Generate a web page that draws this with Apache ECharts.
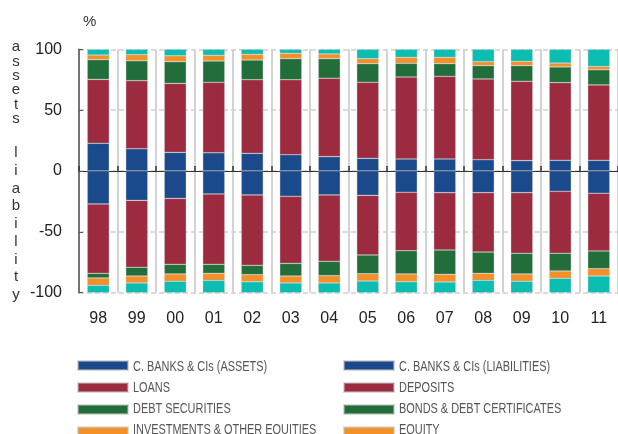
<!DOCTYPE html>
<html>
<head>
<meta charset="utf-8">
<script src="https://cdn.jsdelivr.net/npm/echarts@6/dist/echarts.min.js"></script>
<style>
html,body{margin:0;padding:0;background:#fff;}
#chart{width:618px;height:434px;}
</style>
</head>
<body>
<div id="chart"></div>
<script>
var categories = ['98','99','00','01','02','03','04','05','06','07','08','09','10','11'];
var yTicks = [-100, -50, 0, 50, 100];
var assetNames = ['C. BANKS & CIs (ASSETS)', 'LOANS', 'DEBT SECURITIES', 'INVESTMENTS & OTHER EQUITIES'];
var liabNames = ['C. BANKS & CIs (LIABILITIES)', 'DEPOSITS', 'BONDS & DEBT CERTIFICATES', 'EQUITY'];

// Assets (positive side)
var banksAssets   = [22.8, 18.3, 15.3, 15.0, 14.5, 13.4, 11.8, 10.4,  9.9,  9.9,  9.3,  8.5,  8.8,  8.8];
var loans         = [52.5, 55.9, 56.7, 57.9, 60.5, 61.6, 64.4, 62.5, 67.3, 67.9, 66.3, 65.2, 63.8, 61.9];
var debtSecurities= [16.2, 16.4, 17.8, 17.5, 16.2, 17.3, 16.1, 15.3, 11.3, 10.4, 11.0, 12.9, 12.9, 12.5];
var investments   = [ 3.8,  5.0,  4.9,  4.7,  4.7,  4.4,  3.9,  4.1,  4.9,  5.2,  3.2,  3.5,  3.2,  2.7];
var otherAssets   = [ 4.7,  4.4,  5.3,  4.9,  4.1,  3.3,  3.8,  7.7,  6.6,  6.6, 10.2,  9.9, 11.3, 14.1];

// Liabilities (negative side)
var banksLiab     = [-27.1, -24.1, -22.5, -18.9, -19.7, -20.8, -19.7, -20.0, -17.5, -17.8, -17.8, -17.8, -16.7, -18.3];
var deposits      = [-57.0, -55.0, -54.2, -57.8, -57.8, -55.1, -54.5, -49.0, -48.0, -47.1, -48.8, -49.8, -50.9, -47.4];
var bonds         = [ -3.8,  -7.2,  -7.9,  -7.4,  -7.7, -10.4, -11.8, -15.4, -19.1, -20.0, -17.5, -17.0, -14.6, -14.6];
var equity        = [ -6.0,  -5.7,  -6.0,  -5.7,  -5.8,  -5.7,  -6.0,  -6.0,  -6.4,  -6.3,  -5.7,  -6.0,  -6.0,  -6.0];
var otherLiab     = [ -6.1,  -8.0,  -9.4, -10.2,  -9.0,  -8.0,  -8.0,  -9.6,  -9.0,  -8.8, -10.2,  -9.4, -11.8, -13.7];

var C_BLUE = '#1B4A8C', C_RED = '#9D2B40', C_GREEN = '#226E3A', C_ORANGE = '#F39128', C_TEAL = '#0CBDB2';
var FONT = '"Liberation Sans", Arial, sans-serif';

function bar(name, data, color) {
  return {
    name: name, type: 'bar', stack: 'total', data: data, barWidth: 22,
    itemStyle: { color: color, borderColor: 'rgba(190,190,190,0.55)', borderWidth: 0.6 },
    emphasis: { disabled: true }
  };
}

var legendTop = 360.7, legendRow = 20.9;
function legendLabels(names, x) {
  return names.map(function (n, i) {
    return { type: 'text', x: x, y: legendTop + 6.3 + i * legendRow, scaleX: 0.78,
      style: { text: n, fontSize: 14, fontFamily: FONT, fill: '#555', verticalAlign: 'middle', align: 'left' } };
  });
}
function legendBox(names, left) {
  return { orient: 'vertical', left: left, top: legendTop - 0.8, height: 100, padding: 0,
    itemWidth: 50, itemHeight: 9, itemGap: legendRow - 9.8, icon: 'rect', selectedMode: false,
    formatter: function () { return ''; }, textStyle: { fontSize: 8, lineHeight: 8, padding: 0 }, data: names };
}

var chart = echarts.init(document.getElementById('chart'), null, { renderer: 'canvas' });
chart.setOption({
  animation: false,
  backgroundColor: '#fff',
  textStyle: { fontFamily: FONT },
  grid: { left: 79, top: 49.3, width: 541, height: 243.4, containLabel: false },
  legend: [ legendBox(assetNames, 77), legendBox(liabNames, 343) ],
  graphic: [
    { type: 'text', left: 83, top: 14, style: { text: '%', fontSize: 15, fill: '#333', fontFamily: FONT } },
    { type: 'text', x: 16, y: 39.8, style: { text: 'a\ns\ns\ne\nt\ns', fontSize: 15, lineHeight: 14.4, align: 'center', fill: '#333', fontFamily: FONT } },
    { type: 'text', x: 16, y: 144, style: { text: 'l\ni\na\nb\ni\nl\ni\nt\ny', fontSize: 15, lineHeight: 17.75, align: 'center', fill: '#333', fontFamily: FONT } }
  ].concat(legendLabels(assetNames, 133), legendLabels(liabNames, 399)),
  xAxis: [
    { type: 'category', data: categories, position: 'bottom',
      axisLine: { show: false, onZero: false },
      axisTick: { show: false },
      axisLabel: { fontSize: 16, color: '#222', margin: 18 },
      splitLine: { show: true, interval: 0, lineStyle: { color: '#d3d3d3', width: 2 } } },
    { type: 'category', data: categories, position: 'top',
      axisLine: { show: true, onZero: true, lineStyle: { color: '#333', width: 1.2 } },
      axisTick: { show: true, inside: false, length: 5, interval: 0, lineStyle: { color: '#333', width: 1.5 } },
      axisLabel: { show: false },
      splitLine: { show: false } }
  ],
  yAxis: {
    type: 'value', min: -100, max: 100, interval: 50,
    axisLine: { show: true, lineStyle: { color: '#555', width: 1.5 } },
    axisTick: { show: true, inside: true, length: 4, lineStyle: { color: '#555' } },
    axisLabel: { fontSize: 16, color: '#222', margin: 17,
      formatter: function (v) { return yTicks.indexOf(v) >= 0 ? String(v) : ''; } },
    splitLine: { show: true, lineStyle: { color: '#cfcfcf', type: [5, 3], width: 1.5 } }
  },
  series: [
    bar(assetNames[0], banksAssets, C_BLUE),
    bar(assetNames[1], loans, C_RED),
    bar(assetNames[2], debtSecurities, C_GREEN),
    bar(assetNames[3], investments, C_ORANGE),
    bar('OTHER ASSETS', otherAssets, C_TEAL),
    bar(liabNames[0], banksLiab, C_BLUE),
    bar(liabNames[1], deposits, C_RED),
    bar(liabNames[2], bonds, C_GREEN),
    bar(liabNames[3], equity, C_ORANGE),
    bar('OTHER LIABILITIES', otherLiab, C_TEAL)
  ]
});
</script>
</body>
</html>
